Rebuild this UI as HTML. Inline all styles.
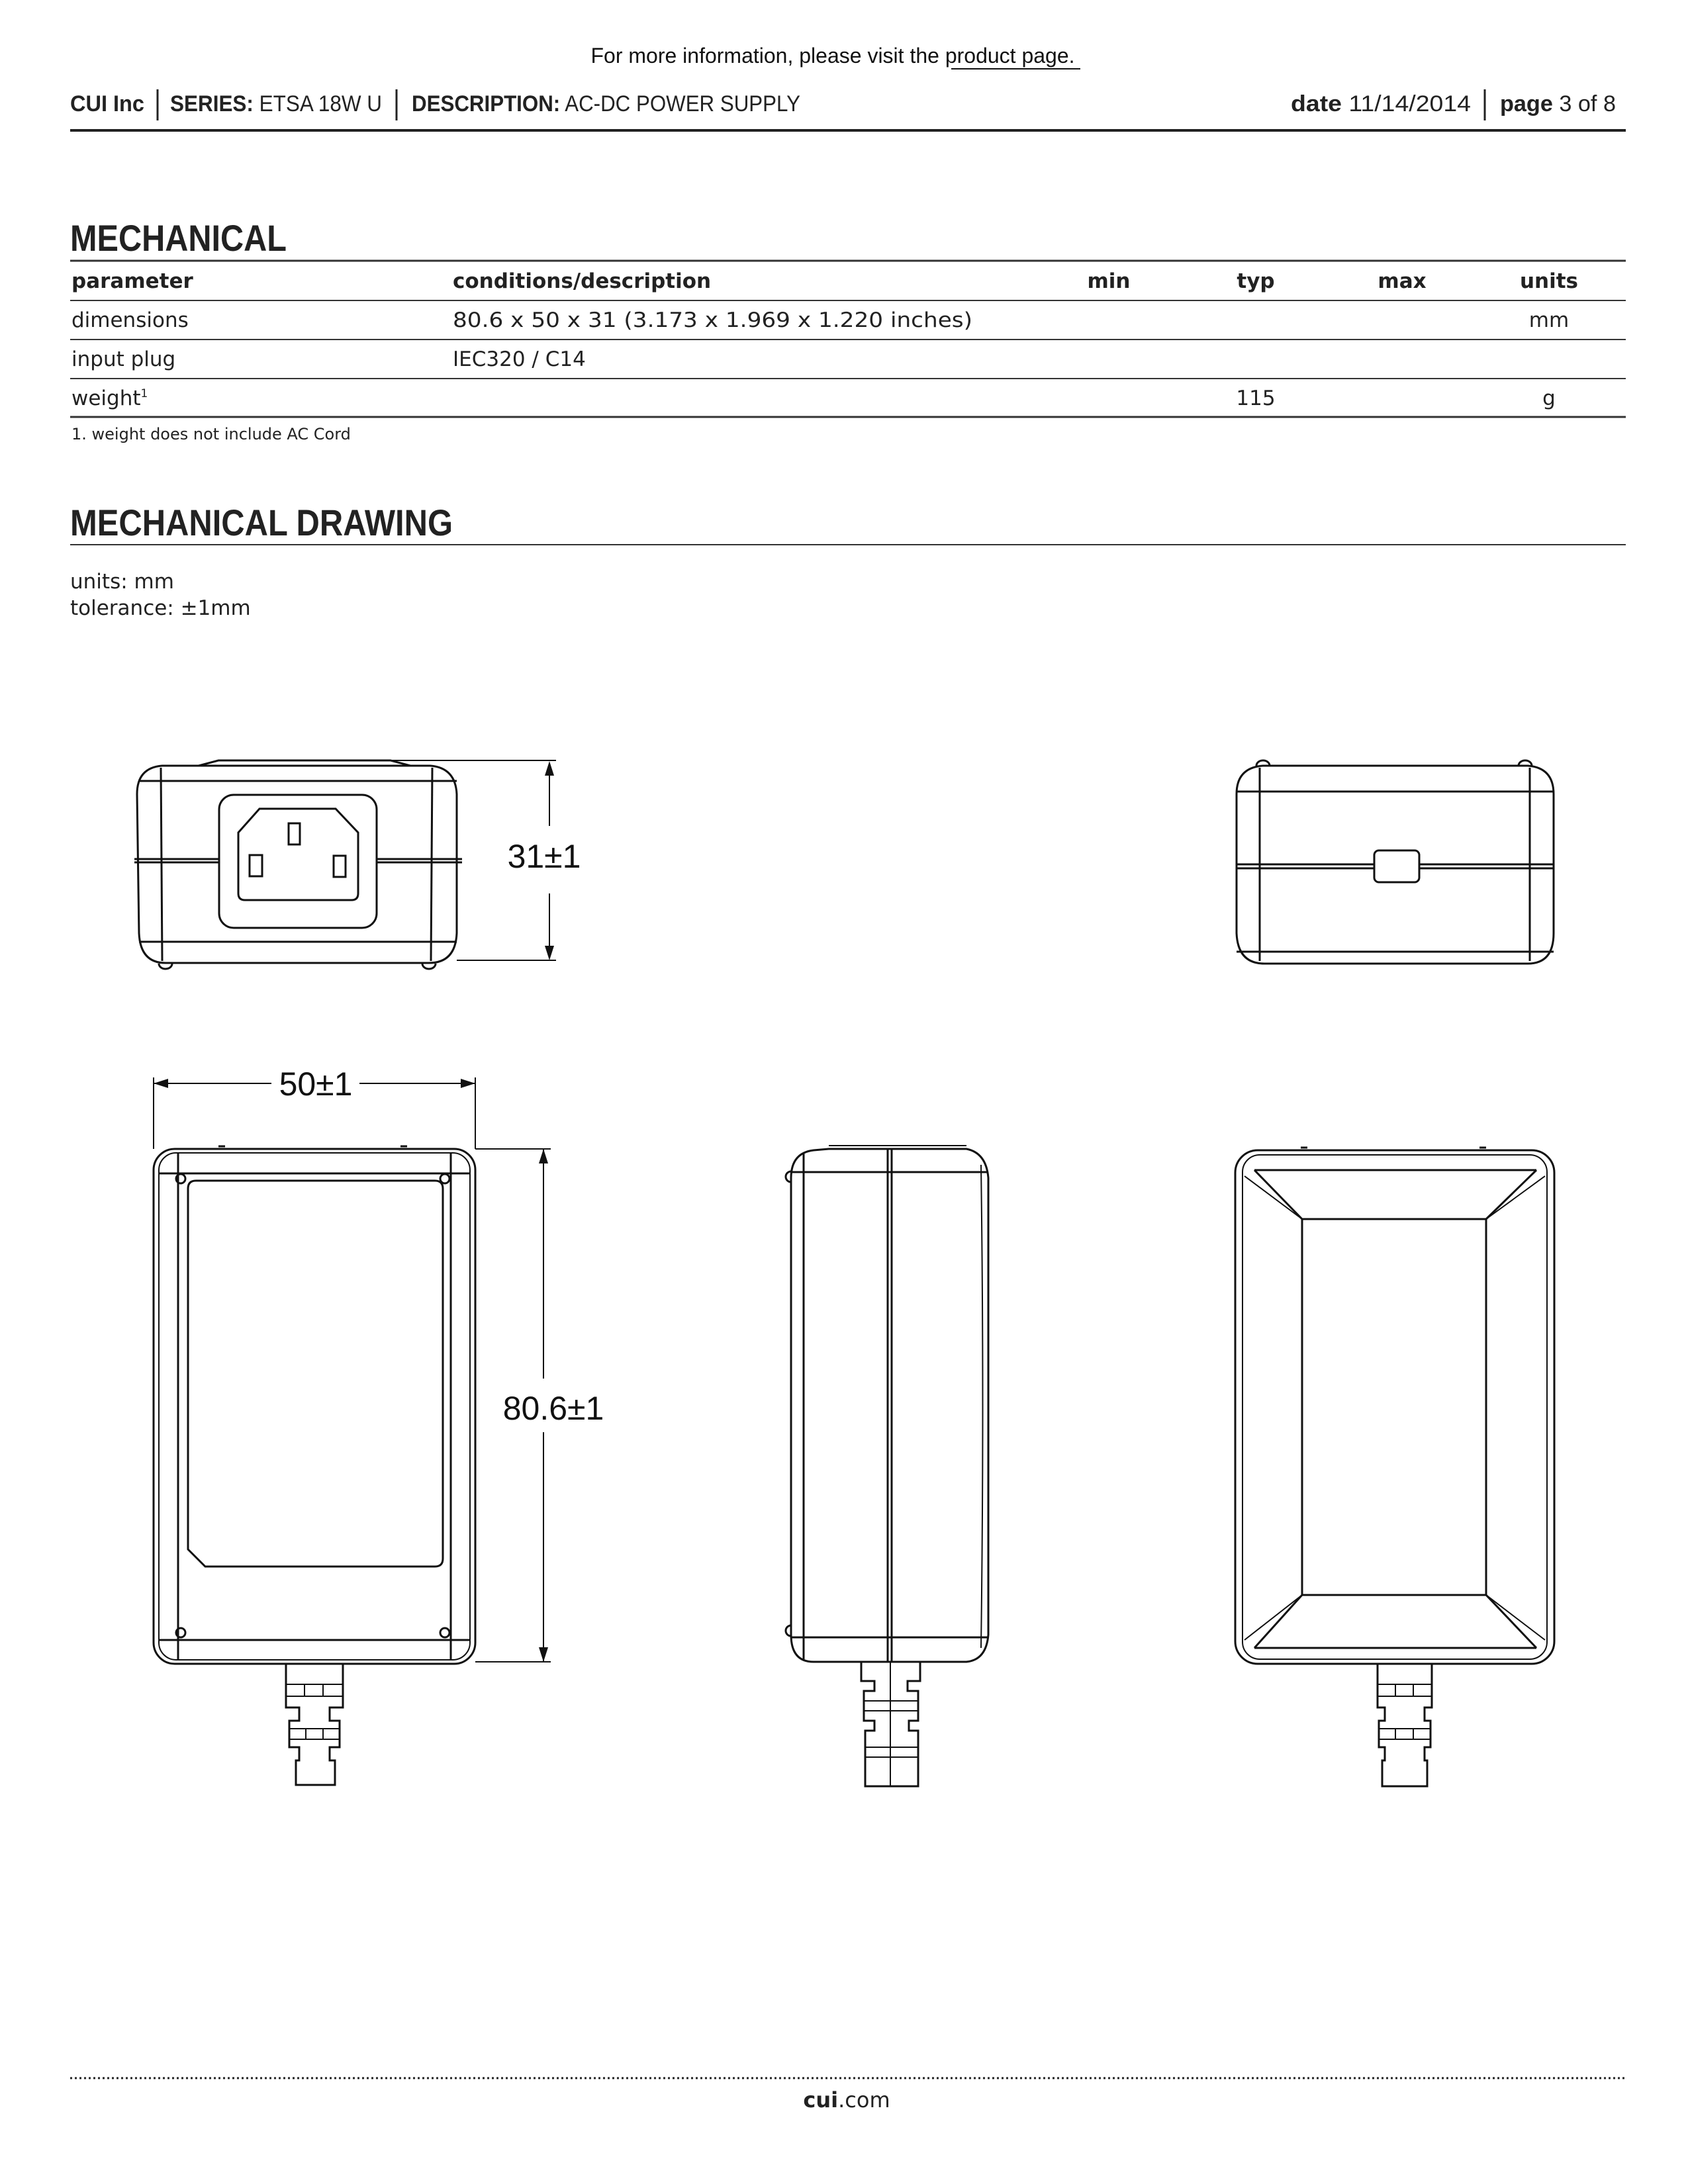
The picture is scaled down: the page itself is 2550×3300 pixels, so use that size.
<!DOCTYPE html>
<html><head><meta charset="utf-8"><style>
html,body{margin:0;padding:0;background:#fff}
svg{display:block}
.hd{font-family:"Liberation Sans Narrow","Liberation Sans",sans-serif;font-size:34px;fill:#222}
.tb{font-family:"DejaVu Sans",sans-serif;font-size:31px;fill:#222}
.dim{font-family:"Liberation Sans",sans-serif;font-size:50px;fill:#111}
.ln{fill:none;stroke:#111;stroke-width:3}
.tn{fill:none;stroke:#111;stroke-width:2}
</style></head><body>
<svg width="2550" height="3300" viewBox="0 0 2550 3300" xmlns="http://www.w3.org/2000/svg">
<text x="1258" y="95" text-anchor="middle" font-family="Liberation Sans,sans-serif" font-size="32" fill="#111">For more information, please visit the product page.</text>
<line x1="1437" y1="104" x2="1632" y2="104" stroke="#111" stroke-width="2"/>
<text class="hd" x="106" y="168" font-weight="bold" textLength="112" lengthAdjust="spacingAndGlyphs">CUI Inc</text>
<line x1="238" y1="135" x2="238" y2="182" stroke="#222" stroke-width="3"/>
<text class="hd" x="257" y="168" textLength="320" lengthAdjust="spacingAndGlyphs"><tspan font-weight="bold">SERIES:</tspan> ETSA 18W U</text>
<line x1="599" y1="135" x2="599" y2="182" stroke="#222" stroke-width="3"/>
<text class="hd" x="622" y="168" textLength="587" lengthAdjust="spacingAndGlyphs"><tspan font-weight="bold">DESCRIPTION:</tspan> AC-DC POWER SUPPLY</text>
<text class="hd" x="1950" y="168" textLength="272" lengthAdjust="spacingAndGlyphs"><tspan font-weight="bold">date</tspan> 11/14/2014</text>
<line x1="2243" y1="135" x2="2243" y2="182" stroke="#222" stroke-width="3"/>
<text class="hd" x="2266" y="168" textLength="175" lengthAdjust="spacingAndGlyphs"><tspan font-weight="bold">page</tspan> 3 of 8</text>
<line x1="106" y1="197" x2="2456" y2="197" stroke="#222" stroke-width="4"/>
<text x="106" y="379" font-family="Liberation Sans Narrow,Liberation Sans,sans-serif" font-weight="bold" font-size="56" fill="#222" textLength="327" lengthAdjust="spacingAndGlyphs">MECHANICAL</text>
<line x1="106" y1="394" x2="2456" y2="394" stroke="#333" stroke-width="3"/>
<g class="tb">
<text x="108" y="435" font-weight="bold">parameter</text>
<text x="684" y="435" font-weight="bold">conditions/description</text>
<text x="1675" y="435" font-weight="bold" text-anchor="middle">min</text>
<text x="1897" y="435" font-weight="bold" text-anchor="middle">typ</text>
<text x="2118" y="435" font-weight="bold" text-anchor="middle">max</text>
<text x="2340" y="435" font-weight="bold" text-anchor="middle">units</text>
<text x="108" y="494">dimensions</text>
<text x="684" y="494" textLength="785" lengthAdjust="spacingAndGlyphs">80.6 x 50 x 31 (3.173 x 1.969 x 1.220 inches)</text>
<text x="2340" y="494" text-anchor="middle">mm</text>
<text x="108" y="553">input plug</text>
<text x="684" y="553">IEC320 / C14</text>
<text x="108" y="612">weight<tspan font-size="17" dy="-12">1</tspan></text>
<text x="1897" y="612" text-anchor="middle">115</text>
<text x="2340" y="612" text-anchor="middle">g</text>
<text x="108" y="664" font-size="24">1. weight does not include AC Cord</text>
</g>
<g stroke="#333" stroke-width="2">
<line x1="106" y1="454" x2="2456" y2="454"/>
<line x1="106" y1="513" x2="2456" y2="513"/>
<line x1="106" y1="572" x2="2456" y2="572"/>
<line x1="106" y1="630" x2="2456" y2="630" stroke-width="3"/>
</g>
<text x="106" y="809" font-family="Liberation Sans Narrow,Liberation Sans,sans-serif" font-weight="bold" font-size="56" fill="#222" textLength="578" lengthAdjust="spacingAndGlyphs">MECHANICAL DRAWING</text>
<line x1="106" y1="823" x2="2456" y2="823" stroke="#333" stroke-width="2"/>
<text class="tb" x="106" y="889">units: mm</text>
<text class="tb" x="106" y="929">tolerance: ±1mm</text>

<g class="ln">
<path d="M250,1455 Q212,1455 210,1410 L207,1200 Q207,1160 245,1157 L300,1157 L330,1149 L590,1149 L620,1157 L650,1157 Q688,1160 690,1200 L690,1410 Q688,1455 648,1455 Z"/>
<line x1="590" y1="1149" x2="840" y2="1149" class="tn"/>
<line x1="690" y1="1451" x2="840" y2="1451" class="tn"/>
<line x1="245" y1="1157" x2="650" y2="1157"/>
<line x1="243" y1="1160" x2="245" y2="1452"/>
<line x1="653" y1="1160" x2="651" y2="1452"/>
<line x1="210" y1="1180" x2="690" y2="1180"/>
<line x1="210" y1="1423" x2="690" y2="1423"/>
<line x1="203" y1="1298" x2="331" y2="1298"/>
<line x1="203" y1="1303" x2="331" y2="1303"/>
<line x1="569" y1="1298" x2="698" y2="1298"/>
<line x1="569" y1="1303" x2="698" y2="1303"/>
<rect x="331" y="1201" width="238" height="201" rx="22"/>
<path d="M392,1222 L507,1222 L541,1258 L541,1350 Q541,1360 531,1360 L370,1360 Q360,1360 360,1350 L360,1258 Z"/>
<rect x="436" y="1244" width="17" height="32"/>
<rect x="377" y="1292" width="19" height="32"/>
<rect x="504" y="1293" width="18" height="32"/>
<path d="M240,1456 A10,8 0 0 0 260,1456"/>
<path d="M638,1456 A10,8 0 0 0 658,1456"/>
</g>
<line x1="830" y1="1153" x2="830" y2="1248" stroke="#111" stroke-width="2"/>
<line x1="830" y1="1350" x2="830" y2="1447" stroke="#111" stroke-width="2"/>
<path d="M830,1150 L823,1172 L837,1172 Z M830,1451 L823,1429 L837,1429 Z" fill="#111"/>
<text class="dim" x="822" y="1311" text-anchor="middle">31±1</text>

<g class="ln">
<path d="M1910,1456 Q1870,1456 1868,1410 L1868,1200 Q1868,1160 1908,1157 L2308,1157 Q2347,1160 2347,1200 L2347,1410 Q2347,1456 2308,1456 Z"/>
<line x1="1903" y1="1160" x2="1903" y2="1452"/>
<line x1="2311" y1="1160" x2="2311" y2="1452"/>
<line x1="1868" y1="1196" x2="2347" y2="1196"/>
<line x1="1868" y1="1438" x2="2347" y2="1438"/>
<line x1="1868" y1="1306" x2="2076" y2="1306"/>
<line x1="1868" y1="1312" x2="2076" y2="1312"/>
<line x1="2144" y1="1306" x2="2347" y2="1306"/>
<line x1="2144" y1="1312" x2="2347" y2="1312"/>
<rect x="2076" y="1285" width="68" height="48" rx="7"/>
<path d="M1898,1157 A10,8 0 0 1 1918,1157"/>
<path d="M2294,1157 A10,8 0 0 1 2314,1157"/>
</g>

<g class="ln">
<rect x="232" y="1736" width="486" height="778" rx="32"/>
<rect x="240" y="1742" width="470" height="766" rx="26" class="tn"/>
<line x1="269" y1="1742" x2="269" y2="2508"/>
<line x1="681" y1="1742" x2="681" y2="2508"/>
<line x1="240" y1="1773" x2="710" y2="1773"/>
<line x1="240" y1="2478" x2="710" y2="2478"/>
<path d="M296,1784 L657,1784 Q669,1784 669,1796 L669,2355 Q669,2367 657,2367 L310,2367 L284,2341 L284,1796 Q284,1784 296,1784 Z"/>
<circle cx="273" cy="1781" r="7"/><circle cx="672" cy="1781" r="7"/>
<circle cx="273" cy="2467" r="7"/><circle cx="672" cy="2467" r="7"/>
<line x1="330" y1="1732" x2="340" y2="1732"/><line x1="605" y1="1732" x2="615" y2="1732"/>
<path d="M432,2514 L432,2580 L452,2580 L452,2600 L437,2600 L437,2640 L452,2640 L452,2660 L447,2660 L447,2697 L506,2697 L506,2660 L498,2660 L498,2640 L513,2640 L513,2600 L498,2600 L498,2580 L518,2580 L518,2514"/>
</g>
<g class="tn">
<line x1="432" y1="2545" x2="518" y2="2545"/><line x1="432" y1="2563" x2="518" y2="2563"/>
<line x1="460" y1="2545" x2="460" y2="2563"/><line x1="488" y1="2545" x2="488" y2="2563"/>
<line x1="437" y1="2612" x2="513" y2="2612"/><line x1="437" y1="2628" x2="513" y2="2628"/>
<line x1="462" y1="2612" x2="462" y2="2628"/><line x1="488" y1="2612" x2="488" y2="2628"/>
<line x1="232" y1="1628" x2="232" y2="1736"/>
<line x1="718" y1="1628" x2="718" y2="1736"/>
<line x1="232" y1="1637" x2="410" y2="1637"/>
<line x1="543" y1="1637" x2="718" y2="1637"/>
<line x1="718" y1="1736" x2="832" y2="1736"/>
<line x1="718" y1="2511" x2="832" y2="2511"/>
<line x1="821" y1="1736" x2="821" y2="2083"/>
<line x1="821" y1="2164" x2="821" y2="2511"/>
</g>
<path d="M232,1637 L254,1630 L254,1644 Z M718,1637 L696,1630 L696,1644 Z M821,1736 L814,1758 L828,1758 Z M821,2511 L814,2489 L828,2489 Z" fill="#111"/>
<text class="dim" x="477" y="1655" text-anchor="middle">50±1</text>
<text class="dim" x="836" y="2145" text-anchor="middle">80.6±1</text>

<g class="ln">
<path d="M1229,2511 Q1195,2511 1195,2470 L1195,1780 Q1195,1742 1229,1738 L1252,1736 L1460,1736 Q1490,1742 1493,1780 L1493,2470 Q1490,2508 1460,2511 Z"/>
<line x1="1214" y1="1742" x2="1214" y2="2508"/>
<line x1="1341" y1="1736" x2="1341" y2="2511"/>
<line x1="1347" y1="1736" x2="1347" y2="2511"/>
<line x1="1195" y1="1771" x2="1493" y2="1771"/>
<line x1="1195" y1="2474" x2="1493" y2="2474"/>
<line x1="1252" y1="1731" x2="1460" y2="1731" class="tn"/>
<path d="M1482,1760 Q1487,2120 1482,2490" class="tn"/>
<path d="M1195,1770 A8,8 0 0 0 1195,1786"/>
<path d="M1195,2456 A8,8 0 0 0 1195,2472"/>
<path d="M1301,2511 L1301,2540 L1321,2540 L1321,2555 L1305,2555 L1305,2600 L1321,2600 L1321,2615 L1307,2615 L1307,2699 L1387,2699 L1387,2615 L1373,2615 L1373,2600 L1387,2600 L1387,2555 L1371,2555 L1371,2540 L1390,2540 L1390,2511"/>
</g>
<g class="tn">
<line x1="1345" y1="2511" x2="1345" y2="2699"/>
<line x1="1305" y1="2570" x2="1387" y2="2570"/><line x1="1305" y1="2585" x2="1387" y2="2585"/>
<line x1="1307" y1="2640" x2="1387" y2="2640"/><line x1="1307" y1="2655" x2="1387" y2="2655"/>
</g>

<g class="ln">
<rect x="1866" y="1738" width="482" height="776" rx="34"/>
<rect x="1877" y="1745" width="460" height="762" rx="26" class="tn"/>
<rect x="1967" y="1842" width="278" height="568"/>
<path d="M1895,1768 L2321,1768 M1895,2490 L2321,2490"/>
<line x1="1895" y1="1768" x2="1967" y2="1842"/>
<line x1="2321" y1="1768" x2="2245" y2="1842"/>
<line x1="1895" y1="2490" x2="1967" y2="2410"/>
<line x1="2321" y1="2490" x2="2245" y2="2410"/>
<line x1="1880" y1="1777" x2="1967" y2="1842" class="tn"/>
<line x1="2334" y1="1777" x2="2245" y2="1842" class="tn"/>
<line x1="1880" y1="2478" x2="1967" y2="2410" class="tn"/>
<line x1="2334" y1="2478" x2="2245" y2="2410" class="tn"/>
<line x1="1965" y1="1734" x2="1975" y2="1734"/><line x1="2235" y1="1734" x2="2245" y2="1734"/>
<path d="M2081,2514 L2081,2580 L2092,2580 L2092,2600 L2083,2600 L2083,2640 L2092,2640 L2092,2660 L2088,2660 L2088,2699 L2156,2699 L2156,2660 L2152,2660 L2152,2640 L2161,2640 L2161,2600 L2152,2600 L2152,2580 L2163,2580 L2163,2514"/>
</g>
<g class="tn">
<line x1="2081" y1="2545" x2="2163" y2="2545"/><line x1="2081" y1="2563" x2="2163" y2="2563"/>
<line x1="2108" y1="2545" x2="2108" y2="2563"/><line x1="2135" y1="2545" x2="2135" y2="2563"/>
<line x1="2083" y1="2612" x2="2161" y2="2612"/><line x1="2083" y1="2628" x2="2161" y2="2628"/>
<line x1="2108" y1="2612" x2="2108" y2="2628"/><line x1="2135" y1="2612" x2="2135" y2="2628"/>
</g>

<line x1="106" y1="3140" x2="2456" y2="3140" stroke="#222" stroke-width="3" stroke-dasharray="3,4"/>
<text x="1279" y="3184" text-anchor="middle" font-family="DejaVu Sans,sans-serif" font-size="32" fill="#222"><tspan font-weight="bold">cui</tspan>.com</text>
</svg>
</body></html>
